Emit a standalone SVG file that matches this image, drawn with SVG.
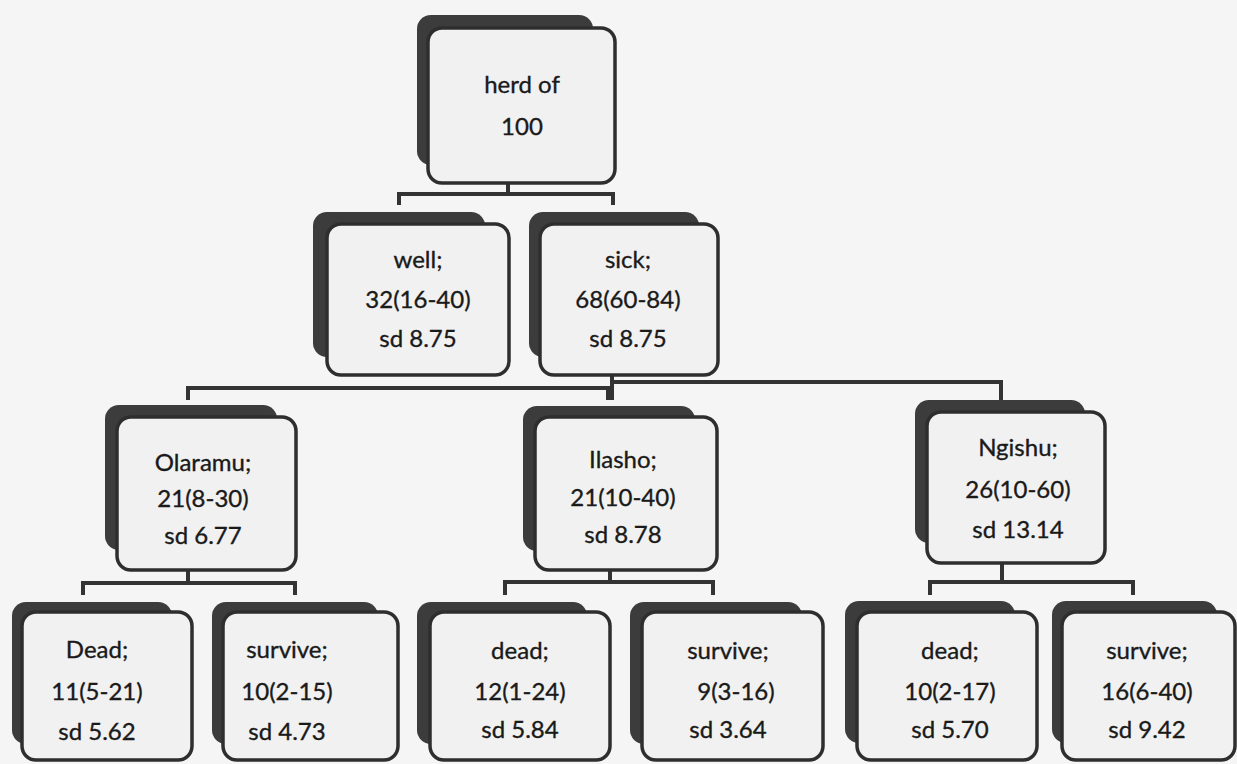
<svg xmlns="http://www.w3.org/2000/svg" width="1237" height="764" viewBox="0 0 1237 764">
<style>
.bg{fill:#f5f5f5}
.sh{fill:#3c3c3c}
.fr{fill:#f1f1f1;stroke:#2e2e2e;stroke-width:3.5}
.t{font-family:Lato,"Liberation Sans",sans-serif;font-size:24px;fill:#1a1a1a;stroke:#1a1a1a;stroke-width:0.35;text-anchor:middle}
.c{fill:none;stroke:#333;stroke-width:4;stroke-linejoin:miter}
</style>
<rect class="bg" x="0" y="0" width="1237" height="764"/>
<g id="connectors">
<path class="c" d="M508 183V194M399 205V194H613V205"/>
<path class="c" d="M612 375V400M612 388H188V400M612 382H1001V400M608 388V400"/>
<path class="c" d="M188 570V583M83 595V583H295V595"/>
<path class="c" d="M610 570V582M505 595V582H713V595"/>
<path class="c" d="M1002 563V582M930 595V582H1133V595"/>
</g>
<g id="root">
<rect class="sh" x="417" y="15" width="176" height="150" rx="14"/>
<rect class="fr" x="428" y="28" width="187" height="155" rx="14"/>
<text class="t" x="522" y="93">herd of</text>
<text class="t" x="522" y="135">100</text>
</g>
<g id="well">
<rect class="sh" x="313" y="212" width="172" height="145" rx="14"/>
<rect class="fr" x="327" y="224" width="182" height="151" rx="14"/>
<text class="t" x="418" y="268">well;</text>
<text class="t" x="418" y="308">32(16-40)</text>
<text class="t" x="418" y="347">sd 8.75</text>
</g>
<g id="sick">
<rect class="sh" x="529" y="212" width="170" height="145" rx="14"/>
<rect class="fr" x="540" y="224" width="178" height="151" rx="14"/>
<text class="t" x="628" y="268">sick;</text>
<text class="t" x="628" y="308">68(60-84)</text>
<text class="t" x="628" y="347">sd 8.75</text>
</g>
<g id="olaramu">
<rect class="sh" x="105" y="405" width="172" height="145" rx="14"/>
<rect class="fr" x="117" y="417" width="179" height="153" rx="14"/>
<text class="t" x="203" y="471">Olaramu;</text>
<text class="t" x="203" y="507">21(8-30)</text>
<text class="t" x="203" y="544">sd 6.77</text>
</g>
<g id="ilasho">
<rect class="sh" x="523" y="406" width="172" height="145" rx="14"/>
<rect class="fr" x="535" y="417" width="182" height="153" rx="14"/>
<text class="t" x="623" y="468">Ilasho;</text>
<text class="t" x="623" y="506">21(10-40)</text>
<text class="t" x="623" y="543">sd 8.78</text>
</g>
<g id="ngishu">
<rect class="sh" x="915" y="400" width="170" height="143" rx="14"/>
<rect class="fr" x="927" y="412" width="178" height="151" rx="14"/>
<text class="t" x="1018" y="456">Ngishu;</text>
<text class="t" x="1018" y="498">26(10-60)</text>
<text class="t" x="1018" y="538">sd 13.14</text>
</g>
<g id="olaramu-dead">
<rect class="sh" x="12" y="602" width="160" height="142" rx="14"/>
<rect class="fr" x="22" y="612" width="170" height="148" rx="14"/>
<text class="t" x="97" y="658">Dead;</text>
<text class="t" x="97" y="700">11(5-21)</text>
<text class="t" x="97" y="740">sd 5.62</text>
</g>
<g id="olaramu-survive">
<rect class="sh" x="212" y="602" width="166" height="142" rx="14"/>
<rect class="fr" x="223" y="612" width="175" height="148" rx="14"/>
<text class="t" x="287" y="658">survive;</text>
<text class="t" x="287" y="700">10(2-15)</text>
<text class="t" x="287" y="740">sd 4.73</text>
</g>
<g id="ilasho-dead">
<rect class="sh" x="417" y="602" width="170" height="142" rx="14"/>
<rect class="fr" x="430" y="612" width="180" height="148" rx="14"/>
<text class="t" x="520" y="659">dead;</text>
<text class="t" x="520" y="700">12(1-24)</text>
<text class="t" x="520" y="738">sd 5.84</text>
</g>
<g id="ilasho-survive">
<rect class="sh" x="630" y="602" width="172" height="142" rx="14"/>
<rect class="fr" x="642" y="612" width="181" height="148" rx="14"/>
<text class="t" x="728" y="659">survive;</text>
<text class="t" x="736" y="700">9(3-16)</text>
<text class="t" x="728" y="738">sd 3.64</text>
</g>
<g id="ngishu-dead">
<rect class="sh" x="845" y="601" width="170" height="142" rx="14"/>
<rect class="fr" x="857" y="612" width="180" height="148" rx="14"/>
<text class="t" x="950" y="659">dead;</text>
<text class="t" x="950" y="700">10(2-17)</text>
<text class="t" x="950" y="738">sd 5.70</text>
</g>
<g id="ngishu-survive">
<rect class="sh" x="1052" y="601" width="165" height="142" rx="14"/>
<rect class="fr" x="1062" y="612" width="173" height="148" rx="14"/>
<text class="t" x="1147" y="659">survive;</text>
<text class="t" x="1147" y="700">16(6-40)</text>
<text class="t" x="1147" y="738">sd 9.42</text>
</g>
</svg>
